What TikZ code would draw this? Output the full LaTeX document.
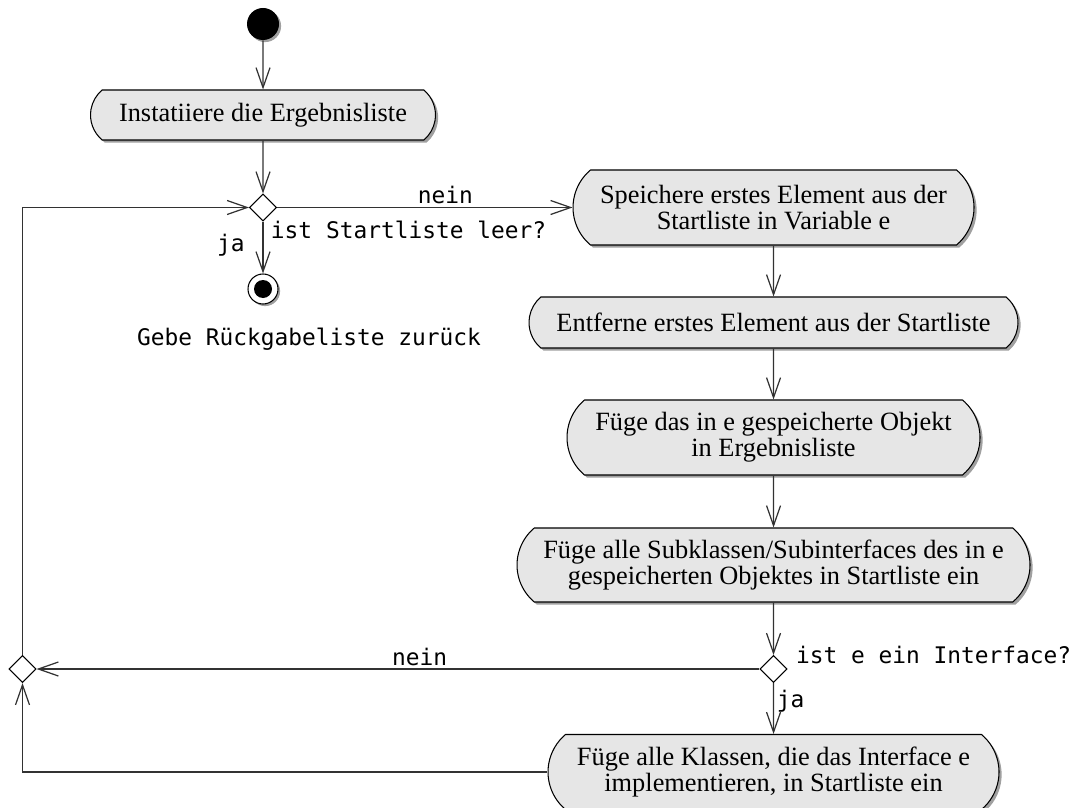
\documentclass[tikz,border=0pt]{standalone}
\usepackage{fontspec}
\setmainfont{Liberation Serif}
\setmonofont{DejaVu Sans Mono}
\usetikzlibrary{shapes.misc,shapes.geometric,arrows.meta,shadows}
\definecolor{actgray}{RGB}{230,230,230}
\definecolor{shadowgray}{RGB}{160,160,160}
\definecolor{linegray}{RGB}{50,50,50}

\begin{document}
\begin{tikzpicture}[
    action/.style={rounded rectangle, rounded rectangle arc length=100, draw, fill=actgray,
        line width=0.6pt, align=center, inner sep=2pt, font=\fontsize{15}{13}\selectfont,
        drop shadow={shadow xshift=1.5pt, shadow yshift=-1.5pt, fill=shadowgray, opacity=1}},
    decision/.style={diamond, draw, fill=white, line width=0.6pt, minimum width=0.54cm,
        minimum height=0.54cm, inner sep=0pt},
    initial/.style={circle, fill=black, minimum size=0.64cm, inner sep=0pt,
        drop shadow={shadow xshift=1.2pt, shadow yshift=-1.2pt, fill=shadowgray, opacity=1}},
    final/.style={circle, draw, fill=white, line width=0.6pt, minimum size=0.6cm, inner sep=0pt,
        drop shadow={shadow xshift=1.2pt, shadow yshift=-1.2pt, fill=shadowgray, opacity=1}},
    flow/.style={draw=linegray, line width=0.7pt, -{Straight Barb[length=0.4cm, width=0.28cm]}},
    guard/.style={font=\ttfamily\fontsize{13}{15}\selectfont, inner sep=1.5pt}
]
    \useasboundingbox (0,0) rectangle (21.46,-16.14);

    \node[initial] (start) at (5.26,-0.48) {};
    \node[action, minimum width=7.04cm, minimum height=1.0cm] (init) at (5.26,-2.30) {Instatiiere die Ergebnisliste};
    \node[decision] (empty) at (5.26,-4.15) {};
    \node[guard, anchor=west] (emptyq) at (5.36,-4.6) {ist Startliste leer?};
    \node[final] (stop) at (5.26,-5.78) {};
    \fill (stop.center) circle (0.18);
    \node[guard] (result) at (6.18,-6.78) {Gebe Rückgabeliste zurück};

    \node[action, minimum width=8.16cm, minimum height=1.5cm] (store) at (15.47,-4.15) {Speichere erstes Element aus der\\Startliste in Variable e};
    \node[action, minimum width=9.92cm, minimum height=1.02cm] (remove) at (15.47,-6.45) {Entferne erstes Element aus der Startliste};
    \node[action, minimum width=8.4cm, minimum height=1.5cm] (addobj) at (15.47,-8.75) {Füge das in e gespeicherte Objekt\\in Ergebnisliste};
    \node[action, minimum width=10.4cm, minimum height=1.48cm] (addsub) at (15.47,-11.30) {Füge alle Subklassen/Subinterfaces des in e\\gespeicherten Objektes in Startliste ein};
    \node[decision] (iface) at (15.47,-13.38) {};
    \node[guard, anchor=west] (ifaceq) at (15.86,-13.1) {ist e ein Interface?};
    \node[action, minimum width=9.16cm, minimum height=1.5cm] (addimpl) at (15.47,-15.44) {Füge alle Klassen, die das Interface e\\implementieren, in Startliste ein};
    \node[decision] (merge) at (0.45,-13.38) {};

    \draw[flow] (start) -- (init);
    \draw[flow] (init) -- (empty);
    \draw[flow] (empty) -- node[guard, left, xshift=-0.3cm, pos=0.45] (yes1) {ja} (stop);
    \draw[flow] (empty) -- node[guard, above, pos=0.57] (no1) {nein} (store);
    \draw[flow] (store) -- (remove);
    \draw[flow] (remove) -- (addobj);
    \draw[flow] (addobj) -- (addsub);
    \draw[flow] (addsub) -- (iface);
    \draw[flow] (iface) -- node[guard, right, pos=0.35] (yes2) {ja} (addimpl);
    \draw[flow] (iface) -- node[guard, above, pos=0.47] (no2) {nein} (merge);
    \draw[flow] (addimpl.west) -| (merge.south);
    \draw[flow] (merge.north) |- (empty.west);
\end{tikzpicture}
\end{document}
